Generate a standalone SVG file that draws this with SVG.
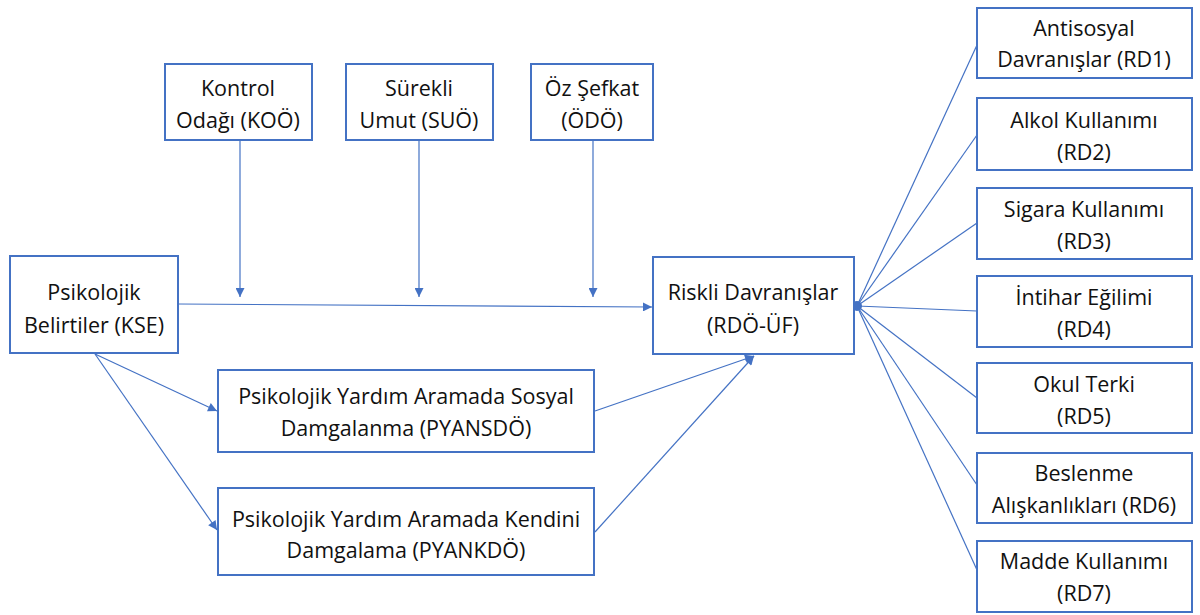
<svg xmlns="http://www.w3.org/2000/svg" width="1200" height="615" viewBox="0 0 1200 615">
<style>
.box{fill:#fff;stroke:#4472C4;stroke-width:2}
.t{font-family:"Open Sans","Liberation Sans",sans-serif;font-size:21.5px;fill:#111;text-anchor:middle}
.c{stroke:#4472C4;stroke-width:1.2;fill:none}
</style>
<defs>
<marker id="ah" viewBox="0 0 10 10" refX="10" refY="5" markerWidth="10" markerHeight="9" markerUnits="userSpaceOnUse" orient="auto">
<path d="M0,0 L10,5 L0,10 z" fill="#4472C4"/>
</marker>
</defs>
<rect width="1200" height="615" fill="#fff"/>
<g id="connectors">
<line class="c" x1="240" y1="141" x2="240" y2="297" marker-end="url(#ah)"/>
<line class="c" x1="419" y1="141" x2="419" y2="297" marker-end="url(#ah)"/>
<line class="c" x1="593" y1="141" x2="593" y2="297" marker-end="url(#ah)"/>
<line class="c" x1="178" y1="304" x2="652" y2="307" marker-end="url(#ah)"/>
<line class="c" x1="95" y1="354" x2="217" y2="411" marker-end="url(#ah)"/>
<line class="c" x1="95" y1="354" x2="217" y2="530" marker-end="url(#ah)"/>
<line class="c" x1="595" y1="411" x2="754" y2="356" marker-end="url(#ah)"/>
<line class="c" x1="595" y1="532" x2="754" y2="356" marker-end="url(#ah)"/>
<line class="c" x1="857" y1="306" x2="977" y2="45"/>
<line class="c" x1="857" y1="306" x2="977" y2="135"/>
<line class="c" x1="857" y1="306" x2="977" y2="223"/>
<line class="c" x1="857" y1="306" x2="977" y2="311"/>
<line class="c" x1="857" y1="306" x2="977" y2="398"/>
<line class="c" x1="857" y1="306" x2="977" y2="485"/>
<line class="c" x1="857" y1="306" x2="977" y2="570"/>
<circle cx="857" cy="306" r="5" fill="#4472C4"/>
</g>
<g id="kse"><rect class="box" x="10" y="256" width="168" height="97"/>
<text class="t" x="94" y="300">Psikolojik</text><text class="t" x="94" y="333">Belirtiler (KSE)</text></g>
<g id="koo"><rect class="box" x="165" y="64" width="147" height="76"/>
<text class="t" x="238" y="96">Kontrol</text><text class="t" x="238" y="128">Odağı (KOÖ)</text></g>
<g id="suo"><rect class="box" x="346" y="64" width="147" height="76"/>
<text class="t" x="419" y="96">Sürekli</text><text class="t" x="419" y="128">Umut (SUÖ)</text></g>
<g id="odo"><rect class="box" x="531" y="64" width="122" height="76"/>
<text class="t" x="592" y="96">Öz Şefkat</text><text class="t" x="592" y="128">(ÖDÖ)</text></g>
<g id="rdo"><rect class="box" x="653" y="257" width="201" height="97"/>
<text class="t" x="753" y="300">Riskli Davranışlar</text><text class="t" x="753" y="333">(RDÖ-ÜF)</text></g>
<g id="pyansdo"><rect class="box" x="218" y="370" width="376" height="82"/>
<text class="t" x="406" y="404">Psikolojik Yardım Aramada Sosyal</text><text class="t" x="406" y="436">Damgalanma (PYANSDÖ)</text></g>
<g id="pyankdo"><rect class="box" x="218" y="488" width="376" height="87"/>
<text class="t" x="406" y="527">Psikolojik Yardım Aramada Kendini</text><text class="t" x="406" y="558">Damgalama (PYANKDÖ)</text></g>
<g id="rd1"><rect class="box" x="977" y="8" width="215" height="70"/>
<text class="t" x="1084" y="36">Antisosyal</text><text class="t" x="1084" y="67">Davranışlar (RD1)</text></g>
<g id="rd2"><rect class="box" x="977" y="98" width="215" height="72"/>
<text class="t" x="1084" y="128">Alkol Kullanımı</text><text class="t" x="1084" y="160">(RD2)</text></g>
<g id="rd3"><rect class="box" x="977" y="188" width="215" height="71"/>
<text class="t" x="1084" y="217">Sigara Kullanımı</text><text class="t" x="1084" y="249">(RD3)</text></g>
<g id="rd4"><rect class="box" x="977" y="276" width="215" height="71"/>
<text class="t" x="1084" y="305">İntihar Eğilimi</text><text class="t" x="1084" y="337">(RD4)</text></g>
<g id="rd5"><rect class="box" x="977" y="363" width="215" height="70"/>
<text class="t" x="1084" y="392">Okul Terki</text><text class="t" x="1084" y="424">(RD5)</text></g>
<g id="rd6"><rect class="box" x="977" y="453" width="215" height="70"/>
<text class="t" x="1084" y="481">Beslenme</text><text class="t" x="1084" y="513">Alışkanlıkları (RD6)</text></g>
<g id="rd7"><rect class="box" x="977" y="541" width="215" height="71"/>
<text class="t" x="1084" y="569">Madde Kullanımı</text><text class="t" x="1084" y="601">(RD7)</text></g>
</svg>
